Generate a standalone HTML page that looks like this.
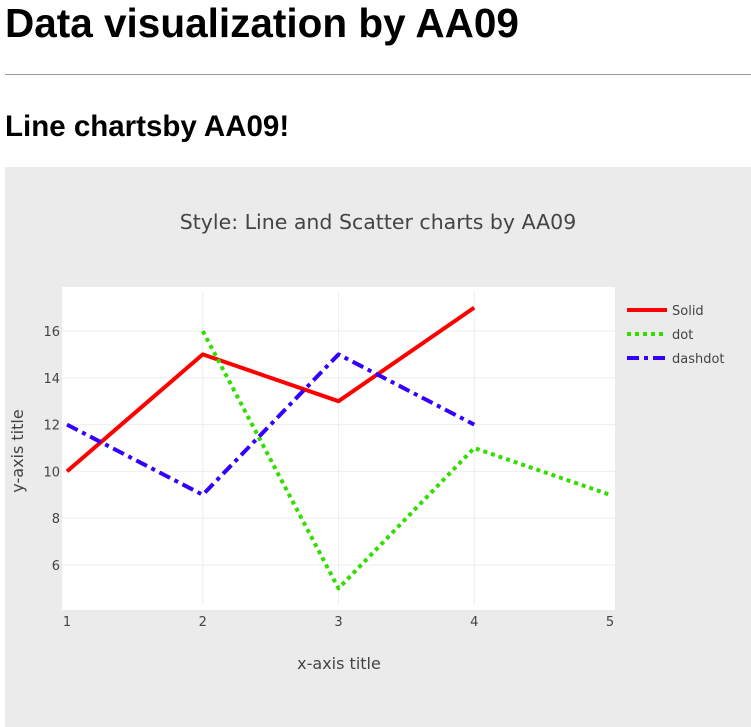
<!DOCTYPE html>
<html><head><meta charset="utf-8"><style>
body{margin:0;width:751px;height:727px;overflow:hidden;background:#fff;font-family:"DejaVu Sans",sans-serif;}
h1{position:absolute;left:5px;top:0;margin:0;font-family:"Liberation Sans",sans-serif;font-size:40.5px;font-weight:bold;line-height:46px;white-space:nowrap;}
hr{position:absolute;left:5px;top:74px;width:746px;margin:0;border:0;border-top:1px solid #999;}
h2{position:absolute;left:5px;top:109px;margin:0;font-family:"Liberation Sans",sans-serif;font-size:29.5px;font-weight:bold;line-height:36px;white-space:nowrap;}
svg{position:absolute;left:0;top:0;font-family:"DejaVu Sans",sans-serif;}
</style></head><body>
<h1>Data visualization by AA09</h1>
<hr>
<h2>Line chartsby AA09!</h2>
<svg id="chart" width="751" height="727"></svg>
<script>
const xCats=[1,2,3,4,5];
const yTicks=[6,8,10,12,14,16];
const solidX=[1,2,3,4], solidY=[10,15,13,17];
const dotX=[2,3,4,5], dotY=[16,5,11,9];
const dashX=[1,2,3,4], dashY=[12,9,15,12];
const NS="http://www.w3.org/2000/svg";
const svg=document.getElementById('chart');
function X(v){return 67+(v-1)*135.75;}
function Y(v){return 331+(16-v)*23.4;}
function mk(t,a,p){const e=document.createElementNS(NS,t);for(const k in a)e.setAttribute(k,a[k]);(p||svg).appendChild(e);return e;}
let bg=mk('rect',{x:5,y:167,width:746,height:560,fill:'#ebebeb'});


let pa=mk('rect',{x:62,y:287,width:553,height:323,fill:'#fff'});


yTicks.forEach(v=>{
 let g=mk('line',{x1:62,x2:615,y1:Y(v),y2:Y(v),stroke:'#eee','stroke-width':1});
 
 
 let t=mk('text',{x:60,y:Y(v)+5,'text-anchor':'end','font-size':13,fill:'#444'});t.textContent=v;
 
 
});
xCats.forEach(v=>{
 if(v>1&&v<5){let g=mk('line',{x1:X(v),x2:X(v),y1:292,y2:605,stroke:'#eee','stroke-width':1});
 
 }
 let t=mk('text',{x:X(v),y:626,'text-anchor':'middle','font-size':13,fill:'#444'});t.textContent=v;
 
 
});
function series(xs,ys,color,dash,name){
 let p=mk('polyline',{points:xs.map((x,i)=>X(x)+','+Y(ys[i])).join(' '),fill:'none',stroke:color,'stroke-width':4,'stroke-dasharray':dash,'stroke-linejoin':'round'});
 
 
}
series(solidX,solidY,'#ff0000','none','series-solid');
series(dotX,dotY,'#33dd00','4,4','series-dot');
series(dashX,dashY,'#3300ff','12,5,4,5','series-dashdot');
let title=mk('text',{x:378,y:229,'text-anchor':'middle','font-size':20.5,fill:'#444'});title.textContent='Style: Line and Scatter charts by AA09';


let xt=mk('text',{x:339,y:669,'text-anchor':'middle','font-size':16,fill:'#444'});xt.textContent='x-axis title';


let yt=mk('text',{x:0,y:0,'text-anchor':'middle','font-size':16,fill:'#444',transform:'translate(23,451) rotate(-90)'});yt.textContent='y-axis title';


[['Solid','#ff0000','none'],['dot','#33dd00','4,4'],['dashdot','#3300ff','12,5,4,5']].forEach((d,i)=>{
 const y=310+i*24;
 let l=mk('line',{x1:627,x2:667,y1:y,y2:y,stroke:d[1],'stroke-width':4,'stroke-dasharray':d[2]});
 
 
 let t=mk('text',{x:672,y:y+5,'font-size':13,fill:'#444'});t.textContent=d[0];
 
 
});
</script>
</body></html>
